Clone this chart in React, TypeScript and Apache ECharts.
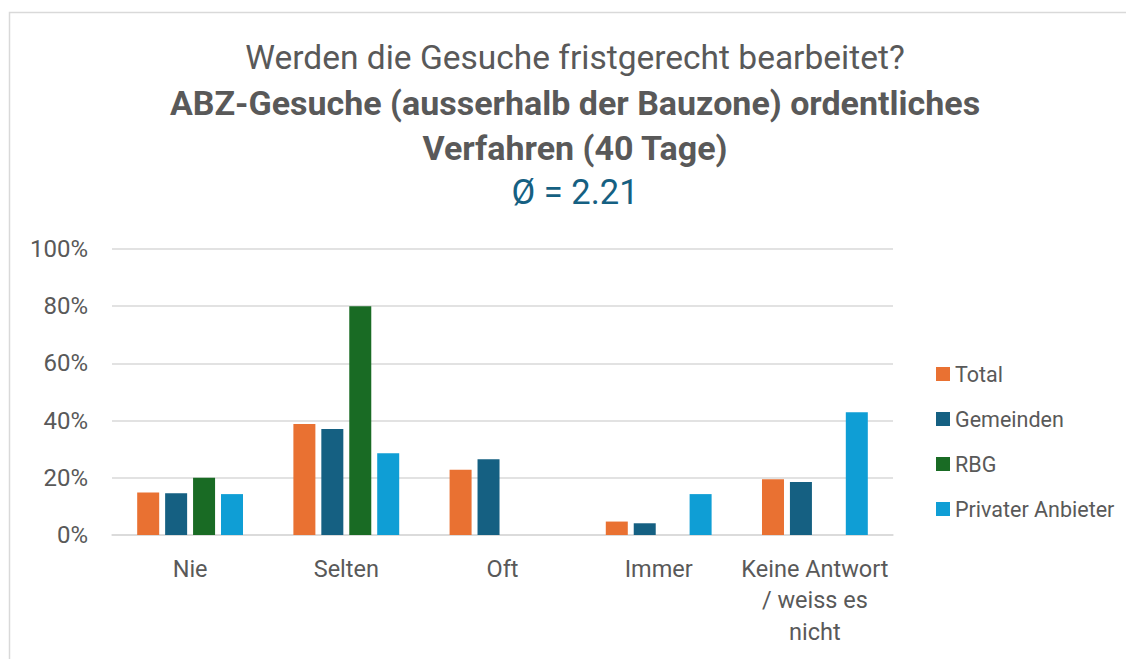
import React, { useEffect, useRef } from "react";
import * as echarts from "echarts";

const categories = ["Nie", "Selten", "Oft", "Immer", "Keine Antwort / weiss es nicht"];
const categoryLabels = ["Nie", "Selten", "Oft", "Immer", "Keine Antwort\n/ weiss es\nnicht"];
const seriesNames = ["Total", "Gemeinden", "RBG", "Privater Anbieter"];
const totalValues = [14.9, 38.8, 22.8, 4.7, 19.5];
const gemeindenValues = [14.6, 37.1, 26.5, 4.1, 18.5];
const rbgValues = [20, 80, 0, 0, 0];
const privatValues = [14.3, 28.6, 0, 14.3, 42.9];
const yTicks = [0, 20, 40, 60, 80, 100];

const colors = ["#E97132", "#156082", "#196B24", "#0F9ED5"];
const FONT = "Roboto, 'Noto Sans', sans-serif";
const GRAY = "#595959";

export default function App() {
  const ref = useRef<HTMLDivElement>(null);
  useEffect(() => {
    document.body.style.margin = "0";
    if (!ref.current) return;
    const chart = echarts.init(ref.current, undefined, { renderer: "svg" });
    const values = [totalValues, gemeindenValues, rbgValues, privatValues];
    chart.setOption({
      animation: false,
      backgroundColor: "#ffffff",
      textStyle: { fontFamily: FONT },
      graphic: [
        {
          type: "rect",
          silent: true,
          shape: { x: 9.5, y: 12.5, width: 1300, height: 800 },
          style: { fill: "none", stroke: "#d9d9d9", lineWidth: 1.5 },
        },
        {
          type: "text",
          x: 575,
          y: 57,
          style: {
            text: "Werden die Gesuche fristgerecht bearbeitet?",
            fontFamily: FONT,
            fontSize: 33.5,
            fill: GRAY,
            align: "center",
            verticalAlign: "middle",
          },
        },
        {
          type: "text",
          x: 575,
          y: 103,
          style: {
            text: "ABZ-Gesuche (ausserhalb der Bauzone) ordentliches",
            fontFamily: FONT,
            fontSize: 34,
            fontWeight: "bold",
            fill: GRAY,
            align: "center",
            verticalAlign: "middle",
          },
        },
        {
          type: "text",
          x: 575,
          y: 148,
          style: {
            text: "Verfahren (40 Tage)",
            fontFamily: FONT,
            fontSize: 34,
            fontWeight: "bold",
            fill: GRAY,
            align: "center",
            verticalAlign: "middle",
          },
        },
        {
          type: "text",
          x: 575,
          y: 192,
          style: {
            text: "Ø = 2.21",
            fontFamily: FONT,
            fontSize: 34.5,
            fill: "#156082",
            align: "center",
            verticalAlign: "middle",
          },
        },
      ],
      legend: {
        orient: "vertical",
        left: 936,
        top: 363,
        padding: 0,
        itemWidth: 14,
        itemHeight: 14,
        itemGap: 23,
        icon: "rect",
        data: seriesNames,
        textStyle: { color: GRAY, fontSize: 21.5, lineHeight: 20, fontFamily: FONT },
      },
      grid: { left: 112, right: 233, top: 249, bottom: 124, containLabel: false },
      xAxis: {
        type: "category",
        data: categories,
        axisLine: { show: true, lineStyle: { color: "#d9d9d9", width: 1.5 } },
        axisTick: { show: false },
        axisLabel: {
          color: GRAY,
          fontSize: 23.5,
          fontFamily: FONT,
          margin: 18,
          lineHeight: 31.5,
          interval: 0,
          formatter: (v: string) => categoryLabels[categories.indexOf(v)] ?? v,
        },
      },
      yAxis: {
        type: "value",
        min: yTicks[0],
        max: yTicks[yTicks.length - 1],
        interval: 20,
        axisLine: { show: false },
        axisTick: { show: false },
        splitLine: { lineStyle: { color: "#d9d9d9", width: 1.5 } },
        axisLabel: {
          color: GRAY,
          fontSize: 24,
          fontFamily: FONT,
          margin: 24,
          formatter: (v: number) => `${v}%`,
        },
      },
      series: seriesNames.map((name, i) => ({
        name,
        type: "bar",
        data: values[i],
        barWidth: 22,
        barGap: "27%",
        itemStyle: { color: colors[i] },
      })),
    });
    return () => chart.dispose();
  }, []);
  return <div ref={ref} style={{ width: 1126, height: 659 }} />;
}
